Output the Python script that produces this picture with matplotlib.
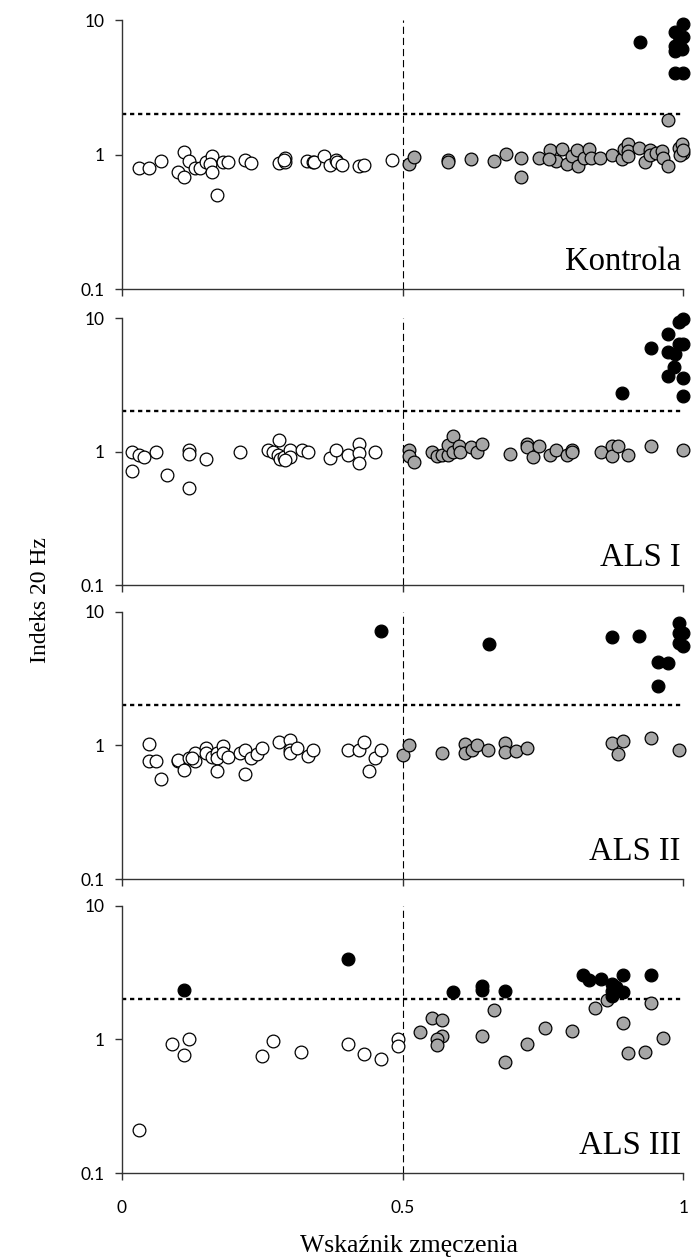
import matplotlib
matplotlib.use("Agg")
import matplotlib.pyplot as plt
from matplotlib.ticker import FixedLocator, FixedFormatter, NullLocator

# Kontrola
kontrola_open_x = [0.030, 0.049, 0.070, 0.110, 0.120, 0.101, 0.110, 0.131, 0.140, 0.150, 0.160, 0.157, 0.160, 0.169,
                   0.180, 0.190, 0.220, 0.230, 0.280, 0.291, 0.291, 0.289, 0.330, 0.340, 0.343, 0.360, 0.370, 0.381,
                   0.383, 0.393, 0.422, 0.432, 0.481]
kontrola_open_y = [0.80, 0.80, 0.90, 1.04, 0.90, 0.75, 0.68, 0.80, 0.80, 0.89, 0.98, 0.85, 0.74, 0.50,
                   0.88, 0.89, 0.92, 0.87, 0.87, 0.95, 0.89, 0.91, 0.90, 0.89, 0.88, 0.98, 0.84, 0.91,
                   0.88, 0.84, 0.83, 0.84, 0.92]
kontrola_gray_x = [0.511, 0.521, 0.581, 0.581, 0.622, 0.662, 0.684, 0.711, 0.711, 0.743, 0.763, 0.773, 0.783, 0.760,
                   0.792, 0.802, 0.811, 0.812, 0.823, 0.832, 0.835, 0.852, 0.872, 0.891, 0.894, 0.902, 0.902, 0.902,
                   0.921, 0.932, 0.940, 0.941, 0.951, 0.962, 0.964, 0.972, 0.973, 0.992, 0.998, 0.999, 0.993, 1.0]
kontrola_gray_y = [0.86, 0.97, 0.92, 0.89, 0.93, 0.90, 1.02, 0.94, 0.68, 0.94, 1.09, 0.90, 1.11, 0.93,
                   0.85, 0.98, 1.09, 0.83, 0.95, 1.11, 0.94, 0.94, 0.99, 0.93, 1.11, 1.21, 1.06, 0.98,
                   1.12, 0.88, 1.08, 0.99, 1.03, 1.06, 0.95, 1.81, 0.83, 1.12, 1.20, 1.03, 0.99, 1.08]
kontrola_black_x = [0.922, 0.984, 1.0, 0.984, 0.998, 1.0, 0.984, 0.984, 1.0, 0.992]
kontrola_black_y = [6.84, 8.12, 9.37, 6.46, 6.10, 7.45, 5.93, 4.02, 4.02, 6.84]

# ALS I
als1_open_x = [0.019, 0.019, 0.030, 0.039, 0.061, 0.080, 0.120, 0.120, 0.120, 0.150, 0.210, 0.260, 0.270, 0.280,
               0.279, 0.282, 0.289, 0.300, 0.300, 0.291, 0.321, 0.331, 0.370, 0.381, 0.402, 0.422, 0.422, 0.422,
               0.451]
als1_open_y = [0.99, 0.71, 0.95, 0.91, 0.99, 0.67, 1.02, 0.96, 0.53, 0.88, 0.99, 1.03, 0.99, 1.22,
               0.95, 0.88, 0.91, 1.02, 0.91, 0.87, 1.03, 1.00, 0.89, 1.03, 0.95, 1.15, 0.97, 0.82,
               0.99]
als1_gray_x = [0.511, 0.511, 0.521, 0.552, 0.562, 0.571, 0.580, 0.580, 0.590, 0.590, 0.600, 0.603, 0.622, 0.632,
               0.642, 0.692, 0.722, 0.722, 0.733, 0.743, 0.763, 0.773, 0.792, 0.802, 0.802, 0.853, 0.872, 0.872,
               0.883, 0.902, 0.942, 1.0]
als1_gray_y = [1.02, 0.92, 0.84, 0.99, 0.93, 0.95, 0.95, 1.13, 1.32, 1.00, 1.10, 0.99, 1.09, 0.99,
               1.15, 0.96, 1.14, 1.08, 0.91, 1.11, 0.95, 1.02, 0.95, 1.03, 0.99, 0.99, 1.11, 0.93,
               1.10, 0.95, 1.10, 1.03]
als1_black_x = [0.891, 0.942, 0.973, 0.992, 1.0, 0.973, 0.985, 0.992, 1.0, 0.983, 0.973, 1.0, 1.0]
als1_black_y = [2.74, 5.95, 7.62, 9.31, 9.88, 5.55, 5.40, 6.41, 6.41, 4.34, 3.71, 3.57, 2.60]

# ALS II
als2_open_x = [0.049, 0.049, 0.061, 0.070, 0.100, 0.101, 0.110, 0.120, 0.131, 0.131, 0.125, 0.150, 0.150, 0.160,
               0.169, 0.170, 0.169, 0.180, 0.180, 0.190, 0.210, 0.220, 0.220, 0.230, 0.241, 0.249, 0.280, 0.300,
               0.300, 0.300, 0.312, 0.331, 0.340, 0.402, 0.422, 0.432, 0.451, 0.441, 0.461]
als2_open_y = [1.03, 0.76, 0.77, 0.56, 0.76, 0.78, 0.65, 0.81, 0.88, 0.77, 0.81, 0.96, 0.87, 0.82,
               0.88, 0.81, 0.64, 0.99, 0.88, 0.82, 0.88, 0.92, 0.61, 0.81, 0.86, 0.96, 1.06, 1.10,
               0.92, 0.88, 0.96, 0.83, 0.92, 0.92, 0.92, 1.06, 0.80, 0.64, 0.92]
als2_gray_x = [0.501, 0.511, 0.571, 0.611, 0.611, 0.623, 0.633, 0.652, 0.682, 0.682, 0.701, 0.722, 0.872, 0.893,
               0.883, 0.942, 0.992]
als2_gray_y = [0.84, 1.00, 0.87, 1.02, 0.87, 0.93, 1.00, 0.92, 1.05, 0.89, 0.90, 0.95, 1.05, 1.07,
               0.86, 1.14, 0.92]
als2_black_x = [0.461, 0.653, 0.872, 0.921, 0.992, 0.992, 1.0, 0.992, 1.0, 0.954, 0.973, 0.954]
als2_black_y = [7.17, 5.76, 6.47, 6.58, 8.27, 6.96, 6.96, 5.86, 5.54, 4.20, 4.11, 2.78]

# ALS III
als3_open_x = [0.030, 0.090, 0.110, 0.120, 0.249, 0.269, 0.320, 0.402, 0.432, 0.461, 0.491, 0.491]
als3_open_y = [0.21, 0.92, 0.77, 1.01, 0.75, 0.97, 0.81, 0.93, 0.78, 0.72, 1.00, 0.89]
als3_gray_x = [0.531, 0.552, 0.571, 0.571, 0.562, 0.561, 0.642, 0.662, 0.682, 0.722, 0.753, 0.802, 0.843, 0.863,
               0.893, 0.902, 0.932, 0.942, 0.964]
als3_gray_y = [1.13, 1.45, 1.41, 1.07, 1.00, 0.91, 1.06, 1.65, 0.68, 0.92, 1.21, 1.15, 1.71, 1.96,
               1.33, 0.79, 0.81, 1.87, 1.03]
als3_black_x = [0.110, 0.402, 0.590, 0.642, 0.642, 0.682, 0.822, 0.832, 0.853, 0.872, 0.893, 0.872, 0.893, 0.879,
                0.872, 0.942]
als3_black_y = [2.36, 4.01, 2.28, 2.53, 2.36, 2.32, 3.01, 2.79, 2.84, 2.61, 3.01, 2.32, 2.26, 2.46,
                2.13, 3.01]

panel_names = ["Kontrola", "ALS I", "ALS II", "ALS III"]
y_ticks = [0.1, 1, 10]
y_tick_labels = ["0.1", "1", "10"]
x_ticks = [0, 0.5, 1]
x_tick_labels = ["0", "0.5", "1"]
prog_x = 0.5
prog_y = 2

panels = [
    (kontrola_open_x, kontrola_open_y, kontrola_gray_x, kontrola_gray_y, kontrola_black_x, kontrola_black_y),
    (als1_open_x, als1_open_y, als1_gray_x, als1_gray_y, als1_black_x, als1_black_y),
    (als2_open_x, als2_open_y, als2_gray_x, als2_gray_y, als2_black_x, als2_black_y),
    (als3_open_x, als3_open_y, als3_gray_x, als3_gray_y, als3_black_x, als3_black_y),
]

# axes boxes in figure fractions (left, bottom, width, height)
boxes = [
    (0.1759, 0.7698, 0.8118, 0.2142),
    (0.1759, 0.5346, 0.8118, 0.2122),
    (0.1759, 0.3007, 0.8118, 0.2127),
    (0.1759, 0.0666, 0.8118, 0.2129),
]

serif = ["Liberation Serif", "DejaVu Serif"]
tick_font = "Lato"
gray = "#A6A6A6"
msize = 84

fig = plt.figure(figsize=(6.92, 12.57), dpi=100)

for i, (ox, oy, gx, gy, bx, by) in enumerate(panels):
    ax = fig.add_axes(boxes[i])
    ax.set_xlim(0, 1)
    ax.set_yscale("log")
    ax.set_ylim(0.1, 10)

    ax.axvline(prog_x, color="black", lw=0.8, linestyle=(0, (6.5, 3.5)), zorder=1)
    ax.axhline(prog_y, color="black", lw=1.7, linestyle=(0, (1.8, 1.6)), zorder=1)

    ax.scatter(ox, oy, s=msize, facecolors="white", edgecolors="black", linewidths=0.9, zorder=3, clip_on=False)
    ax.scatter(gx, gy, s=msize, facecolors=gray, edgecolors="black", linewidths=0.9, zorder=4, clip_on=False)
    ax.scatter(bx, by, s=msize, facecolors="black", edgecolors="black", linewidths=0.9, zorder=5, clip_on=False)

    for side in ["top", "right"]:
        ax.spines[side].set_visible(False)
    for side in ["left", "bottom"]:
        ax.spines[side].set_linewidth(1.0)
        ax.spines[side].set_color("#333333")

    ax.yaxis.set_major_locator(FixedLocator(y_ticks))
    ax.yaxis.set_major_formatter(FixedFormatter(y_tick_labels))
    ax.yaxis.set_minor_locator(NullLocator())
    ax.xaxis.set_major_locator(FixedLocator(x_ticks))
    ax.xaxis.set_minor_locator(NullLocator())
    if i == len(panels) - 1:
        ax.xaxis.set_major_formatter(FixedFormatter(x_tick_labels))
    else:
        ax.xaxis.set_major_formatter(FixedFormatter(["", "", ""]))

    ax.tick_params(axis="y", direction="out", length=5, width=1.0, color="#333333", pad=7, labelsize=12.5)
    ax.tick_params(axis="x", direction="out", length=5, width=1.0, color="#333333", pad=14, labelsize=12.5)
    for lab in ax.get_xticklabels() + ax.get_yticklabels():
        lab.set_fontfamily(tick_font)

    ax.text(0.995, 0.072, panel_names[i], transform=ax.transAxes, ha="right", va="baseline",
            fontsize=23.5, family=serif)

fig.text(409.5 / 692, 1 - 1251.7 / 1257, "Wskaźnik zmęczenia", ha="center", va="baseline",
         fontsize=18.5, family=serif)
fig.text(40 / 692, 1 - 600 / 1257, "Indeks 20 Hz", ha="center", va="center", rotation=90,
         fontsize=17, family=serif)

fig.savefig("out.png", dpi=100)
